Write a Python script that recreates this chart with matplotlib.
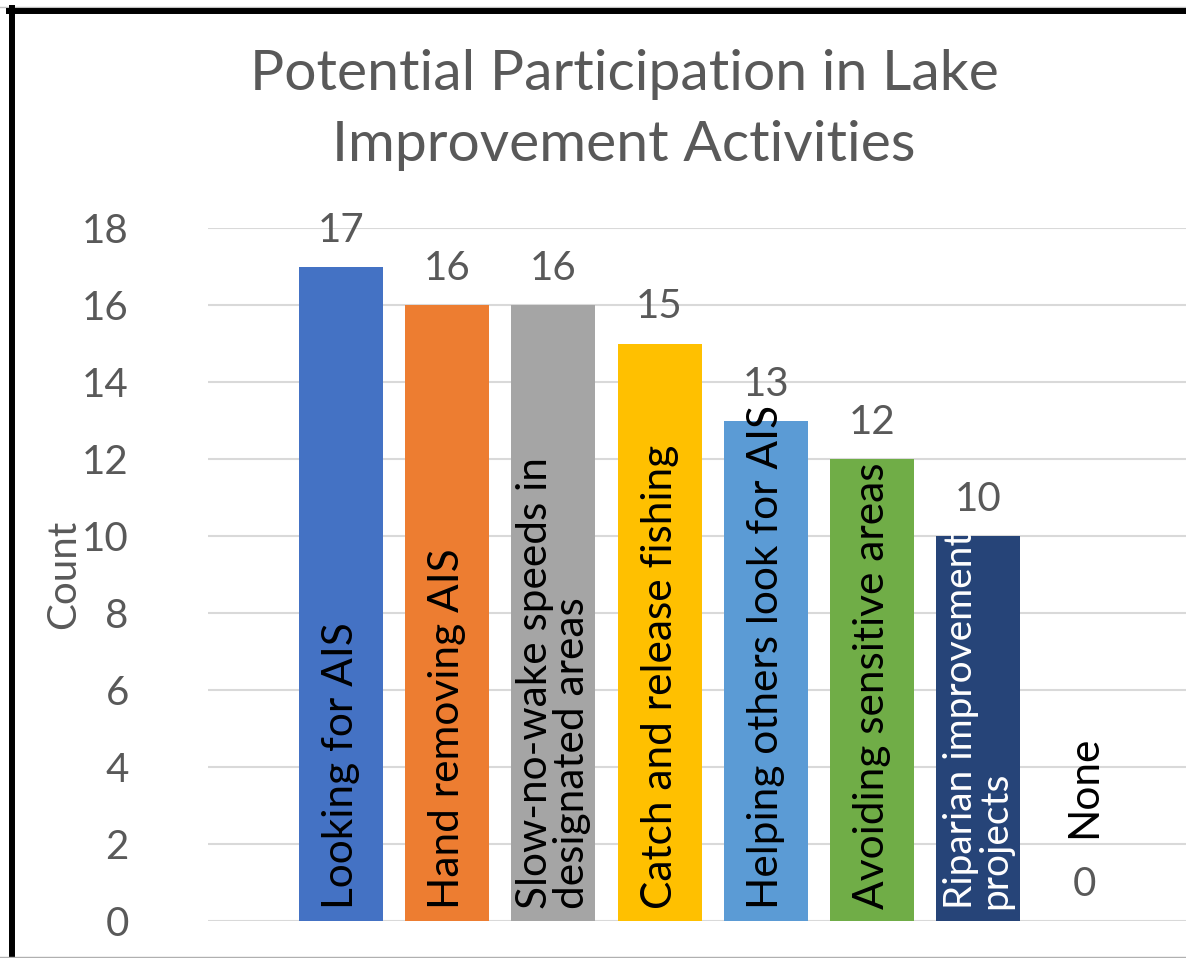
import matplotlib.pyplot as plt
from matplotlib.lines import Line2D

# chart data
activities = ["Looking for AIS", "Hand removing AIS",
              "Slow-no-wake speeds in\ndesignated areas", "Catch and release fishing",
              "Helping others look for AIS", "Avoiding sensitive areas",
              "Riparian improvement\nprojects", "None"]
counts = [17, 16, 16, 15, 13, 12, 10, 0]
bar_colors = ["#4472C4", "#ED7D31", "#A5A5A5", "#FFC000",
              "#5B9BD5", "#70AD47", "#264478", "#7F7F7F"]
label_colors = ["black", "black", "black", "black",
                "black", "black", "white", "black"]
y_ticks = [0, 2, 4, 6, 8, 10, 12, 14, 16, 18]

plt.rcParams['font.family'] = ['Lato', 'DejaVu Sans']
grey = "#595959"

fig = plt.figure(figsize=(11.86, 9.58), dpi=100)
W, H = 1186, 958
ax = fig.add_axes([208 / W, 1 - 921 / H, (W - 208) / W, (921 - 228) / H])

x = list(range(len(activities)))
ax.bar(x, counts, width=0.79, color=bar_colors, zorder=2)

ax.set_ylim(0, 18)
ax.set_xlim(-1.252, 7.957)
ax.set_yticks(y_ticks)
ax.yaxis.grid(True, color="#D9D9D9", linewidth=1.5, zorder=0)
ax.set_axisbelow(True)
ax.tick_params(axis='y', length=0, pad=57, labelsize=29, labelcolor=grey)
ax.set_xticks([])
for s in ax.spines.values():
    s.set_visible(False)

ax.set_ylabel("Count", fontsize=29, color=grey)
ax.yaxis.set_label_coords(-0.129, 0.5)

# value labels above bars
for i, c in enumerate(counts):
    ax.annotate(str(c), (x[i], c), xytext=(0, 18), textcoords="offset points",
                ha="center", va="baseline", fontsize=29, color=grey)

# category names written inside bars
for i, name in enumerate(activities):
    size = 28 if i == 6 else 30.5
    y0 = 2.16 if counts[i] == 0 else 0.3
    ax.text(x[i], y0, name, rotation=90, ha="center", va="bottom",
            multialignment="left", fontsize=size, color=label_colors[i],
            linespacing=0.95, zorder=3)

fig.text(624 / W, 1 - 110 / H,
         "Potential Participation in Lake\nImprovement Activities",
         ha="center", va="center", fontsize=41, color=grey,
         linespacing=1.5)

# outer frame
fig.add_artist(Line2D([0, 1], [1 - 7 / H, 1 - 7 / H], color="#C0C0C0", linewidth=1))
fig.add_artist(Line2D([9 / W, 1], [1 - 11 / H, 1 - 11 / H], color="black", linewidth=4.3))
fig.add_artist(Line2D([12 / W, 12 / W], [0, 1 - 8 / H], color="black", linewidth=4.3))
fig.add_artist(Line2D([0, 1], [1 - 957 / H, 1 - 957 / H], color="#B0B0B0", linewidth=1))

fig.savefig("out.png", dpi=100)
